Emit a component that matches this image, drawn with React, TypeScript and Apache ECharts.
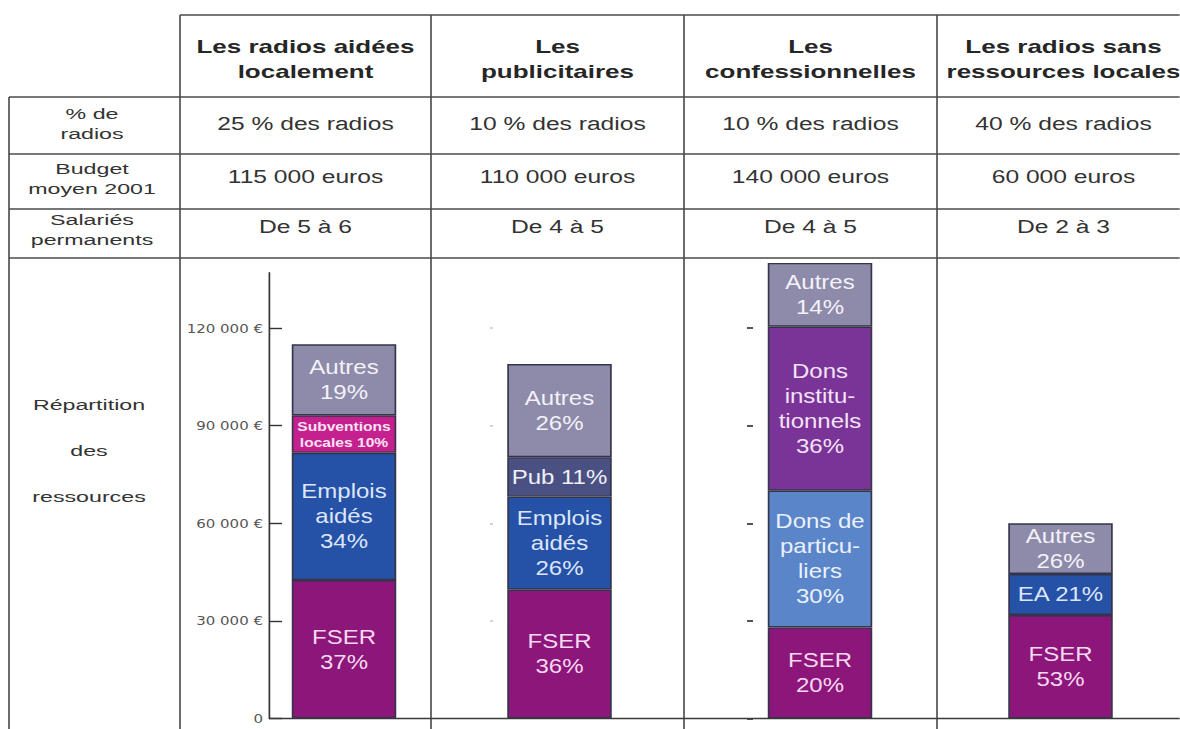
import React, { useEffect, useRef } from 'react';
import * as echarts from 'echarts';

// ---------- data ----------
const categories = [
  'Les radios aidées\nlocalement',
  'Les\npublicitaires',
  'Les\nconfessionnelles',
  'Les radios sans\nressources locales',
];
const rowLabels = ['% de\nradios', 'Budget\nmoyen 2001', 'Salariés\npermanents', 'Répartition\ndes\nressources'];
const shareOfRadios = ['25 % des radios', '10 % des radios', '10 % des radios', '40 % des radios'];
const averageBudget = ['115 000 euros', '110 000 euros', '140 000 euros', '60 000 euros'];
const permanentStaff = ['De 5 à 6', 'De 4 à 5', 'De 4 à 5', 'De 2 à 3'];

const yTickValues = [0, 30000, 60000, 90000, 120000];
const yTickLabels = ['0', '30 000 €', '60 000 €', '90 000 €', '120 000 €'];

// resources in euros (bottom to top of each bar)
const fser = [42550, 39600, 28000, 31800];
const emploisAides = [39100, 28600, null, 12600];
const subventionsLocales = [11500, null, null, null];
const pub = [null, 12100, null, null];
const donsParticuliers = [null, null, 42000, null];
const donsInstitutionnels = [null, null, 50400, null];
const autres = [21850, 28600, 19600, 15600];

// shares in % (labels)
const fserPct = [37, 36, 20, 53];
const emploisAidesPct = [34, 26, null, 21];
const subventionsLocalesPct = [10, null, null, null];
const pubPct = [null, 11, null, null];
const donsParticuliersPct = [null, null, 30, null];
const donsInstitutionnelsPct = [null, null, 36, null];
const autresPct = [19, 26, 14, 26];

const segmentNames = ['FSER', 'Emplois aidés', 'Subventions locales', 'Pub', 'Dons de particuliers', 'Dons institutionnels', 'Autres'];
const segmentLabelStems = ['FSER\n', 'Emplois\naidés\n', 'Subventions\nlocales ', 'Pub ', 'Dons de\nparticu-\nliers\n', 'Dons\ninstitu-\ntionnels\n', 'Autres\n'];
const shortEmploisStem = 'EA ';

// ---------- layout / styles ----------
const S = 1.2; // horizontal stretch of the whole picture
const X = (x: number) => x / S;
const W = 1180 / S;
const H = 729;

const segValues = [fser, emploisAides, subventionsLocales, pub, donsParticuliers, donsInstitutionnels, autres];
const segPcts = [fserPct, emploisAidesPct, subventionsLocalesPct, pubPct, donsParticuliersPct, donsInstitutionnelsPct, autresPct];
const segColors = ['#8C1679', '#2551A6', '#C4208E', '#4B5082', '#5B85C9', '#7A3497', '#8E8AA9'];
const segTextColors = ['#F7D9F1', '#DDE6FB', '#FBE3F3', '#EEF0FA', '#EAF1FD', '#F3E3F8', '#F3F2F8'];

const baseY = 718.5;
const unitPx = 390.5 / 120000;
const colEdges = [180, 431, 684, 937, 1190];
const colCenters = [305.5, 557.5, 810.5, 1063.5];
const rowEdges = [15, 97, 154, 209, 258];
const gridAxisX = [269, 493, 753, 1000];
const barCenters = [344, 559.5, 820, 1060.5];
const axisMax = [137000, 140000, 140000, 140000];
const SANS = 'Liberation Sans, Arial, Helvetica, sans-serif';

function labelText(k: number, col: number, p: number) {
  if (k === 1 && col === 3) return `${shortEmploisStem}${p}%`;
  return `${segmentLabelStems[k]}${p}%`;
}

function buildOption() {
  const grid = gridAxisX.map((ax, i) => ({
    left: X(ax),
    width: X(2 * (barCenters[i] - ax)),
    top: baseY - axisMax[i] * unitPx,
    height: axisMax[i] * unitPx,
    containLabel: false,
    outerBoundsMode: 'none',
  }));

  const xAxis = categories.map((c, i) => ({
    type: 'category',
    gridIndex: i,
    data: [c.replace('\n', ' ')],
    show: false,
  }));

  const yAxis: any[] = [
    {
      type: 'value', gridIndex: 0, min: 0, max: axisMax[0], interval: 30000,
      axisLine: { show: true, lineStyle: { color: '#333', width: 1.4 } },
      axisTick: { show: true, inside: true, length: X(13), customValues: yTickValues, lineStyle: { color: '#333', width: 1.4 } },
      axisLabel: {
        show: true, customValues: yTickValues, margin: X(6),
        formatter: (v: number) => yTickLabels[yTickValues.indexOf(v)] ?? '',
        fontFamily: 'DejaVu Sans', fontSize: 12.5, color: '#555',
      },
      splitLine: { show: false },
    },
    {
      type: 'value', gridIndex: 1, min: 0, max: axisMax[1], interval: 30000,
      axisLine: { show: false },
      axisTick: { show: true, length: X(3), customValues: yTickValues.slice(1), lineStyle: { color: '#c4c4c4', width: 1.5 } },
      axisLabel: { show: false },
      splitLine: { show: false },
    },
    {
      type: 'value', gridIndex: 2, min: 0, max: axisMax[2], interval: 30000,
      axisLine: { show: false },
      axisTick: { show: true, length: X(6), customValues: yTickValues, lineStyle: { color: '#555', width: 2 } },
      axisLabel: { show: false },
      splitLine: { show: false },
    },
    {
      type: 'value', gridIndex: 3, min: 0, max: axisMax[3], interval: 30000, show: false,
      splitLine: { show: false },
    },
  ];

  const series: any[] = [];
  for (let col = 0; col < 4; col++) {
    segValues.forEach((vals, k) => {
      const v = vals[col];
      const p = segPcts[k][col];
      if (v == null || p == null) return;
      const isSmall = k === 2;
      series.push({
        type: 'bar',
        name: segmentNames[k],
        xAxisIndex: col,
        yAxisIndex: col,
        stack: 'col' + col,
        barWidth: X(104.5),
        data: [v],
        itemStyle: { color: segColors[k], borderColor: '#34344a', borderWidth: 1.4 },
        label: {
          show: true,
          position: 'inside',
          formatter: labelText(k, col, p),
          color: segTextColors[k],
          fontFamily: SANS,
          fontSize: isSmall ? 13 : 20,
          fontWeight: isSmall ? 'bold' : 'normal',
          lineHeight: isSmall ? 16 : 25,
        },
      });
    });
  }

  const lineStyle = { stroke: '#4a4a4a', lineWidth: 1.6 };
  const hLine = (x1: number, x2: number, y: number, style: any = lineStyle) => ({
    type: 'line', silent: true, z: 50,
    shape: { x1: X(x1), y1: y, x2: X(x2), y2: y }, style,
  });
  const vLine = (x: number, y1: number, y2: number) => ({
    type: 'line', silent: true, z: 50,
    shape: { x1: X(x), y1, x2: X(x), y2 }, style: { stroke: '#4a4a4a', lineWidth: 1.35 },
  });
  const txt = (x: number, y: number, t: string, size: number, weight: string, sx: number, lh: number, fill: string) => ({
    type: 'text', silent: true, z: 60,
    x: X(x), y, scaleX: sx,
    style: {
      text: t, fontSize: size, fontWeight: weight, fontFamily: SANS, lineHeight: lh, fill,
      align: 'center', verticalAlign: 'middle', textAlign: 'center', textVerticalAlign: 'middle',
    },
  });

  const elements: any[] = [];
  elements.push(hLine(colEdges[0], 1200, rowEdges[0]));
  for (let r = 1; r < rowEdges.length; r++) elements.push(hLine(9, 1200, rowEdges[r]));
  elements.push(vLine(9, rowEdges[1], 745));
  colEdges.slice(0, 4).forEach((x) => elements.push(vLine(x, rowEdges[0], 745)));
  elements.push(hLine(gridAxisX[0], 1200, baseY, { stroke: '#3a3a3a', lineWidth: 1.5 }));

  categories.forEach((c, i) => elements.push(txt(colCenters[i], 58.5, c, 19, 'bold', 1.14, 25, '#262626')));
  const rowCentersY = [124, 179, 229.5];
  rowLabels.slice(0, 3).forEach((t, r) => elements.push(txt(92, rowCentersY[r], t, 15, 'normal', 1.29, 20, '#333')));
  elements.push(txt(89, 451, rowLabels[3], 15, 'normal', 1.29, 46, '#333'));
  const cellY = [123.5, 177, 226.5];
  [shareOfRadios, averageBudget, permanentStaff].forEach((row, r) =>
    row.forEach((t, i) => elements.push(txt(colCenters[i], cellY[r], t, 18, 'normal', 1.14, 22, '#333'))),
  );

  return {
    animation: false,
    backgroundColor: '#fff',
    grid,
    xAxis,
    yAxis,
    series,
    graphic: { elements },
  };
}

export default function App() {
  const ref = useRef<HTMLDivElement>(null);
  useEffect(() => {
    if (!ref.current) return;
    const chart = echarts.init(ref.current, null, { renderer: 'svg' });
    chart.setOption(buildOption() as any);
    return () => chart.dispose();
  }, []);
  return (
    <div
      ref={ref}
      style={{
        position: 'absolute', left: 0, top: 0, width: W, height: H,
        transform: `scaleX(${S})`, transformOrigin: '0 0', overflow: 'hidden', background: '#fff',
      }}
    />
  );
}
